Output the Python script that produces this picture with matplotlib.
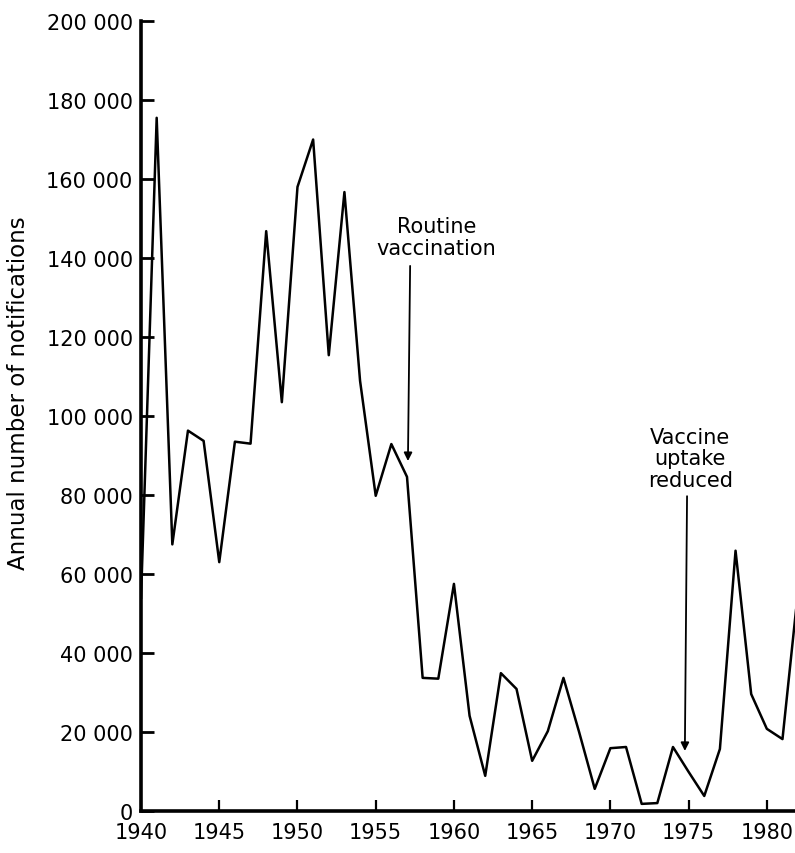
import matplotlib.pyplot as plt

# Annual notifications
years = [1940, 1941, 1942, 1943, 1944, 1945, 1946, 1947, 1948, 1949,
         1950, 1951, 1952, 1953, 1954, 1955, 1956, 1957, 1958, 1959,
         1960, 1961, 1962, 1963, 1964, 1965, 1966, 1967, 1968, 1969,
         1970, 1971, 1972, 1973, 1974, 1975, 1976, 1977, 1978, 1979,
         1980, 1981, 1982]
notifications = [54000, 175500, 67500, 96300, 93700, 63000, 93500, 93000, 146800, 103500,
                 158000, 170000, 115400, 156700, 108900, 79800, 92900, 84600, 33700, 33500,
                 57500, 24100, 8900, 34900, 30900, 12700, 20200, 33700, 20000, 5600,
                 15900, 16200, 1800, 2000, 16200, 9900, 3800, 15700, 65900, 29600,
                 20800, 18200, 56000]

y_ticks = [0, 20000, 40000, 60000, 80000, 100000, 120000, 140000, 160000, 180000, 200000]
y_tick_labels = ['0', '20 000', '40 000', '60 000', '80 000', '100 000', '120 000',
                 '140 000', '160 000', '180 000', '200 000']
x_ticks = [1940, 1945, 1950, 1955, 1960, 1965, 1970, 1975, 1980]

plt.rcParams['font.family'] = ['DejaVu Sans']

fig = plt.figure(figsize=(7.95, 8.54), dpi=100)
ax = fig.add_axes([0.1774, 0.0492, 1 - 0.1774, 0.925])

ax.plot(years, notifications, color='black', linewidth=1.8)

ax.set_xlim(1940, 1981.8)
ax.set_ylim(0, 200000)

ax.spines['top'].set_visible(False)
ax.spines['right'].set_visible(False)
ax.spines['left'].set_linewidth(2.6)
ax.spines['bottom'].set_linewidth(2.6)

ax.set_yticks(y_ticks)
ax.set_yticklabels(y_tick_labels)
ax.set_xticks(x_ticks)
ax.tick_params(axis='y', direction='in', length=9, width=2, pad=6, labelsize=15)
ax.tick_params(axis='x', direction='in', length=8, width=1.6, pad=8, labelsize=15)

ax.set_ylabel('Annual number of notifications', fontsize=16.5)
ax.yaxis.set_label_coords(-0.17, 0.53)

arrow_style = dict(arrowstyle='-|>', color='black', lw=1.3, mutation_scale=12,
                   shrinkA=0, shrinkB=0)

ax.text(1958.9, 140000, 'Routine\nvaccination', ha='center', va='bottom',
        fontsize=15, linespacing=1.1)
ax.annotate('', xy=(1957.06, 88600), xytext=(1957.2, 138000), arrowprops=arrow_style)

ax.text(1975.1, 81300, 'Vaccine\nuptake\nreduced', ha='center', va='bottom',
        fontsize=15, linespacing=1.1)
ax.annotate('', xy=(1974.76, 15200), xytext=(1974.9, 79700), arrowprops=arrow_style)

fig.savefig('out.png', dpi=100)
